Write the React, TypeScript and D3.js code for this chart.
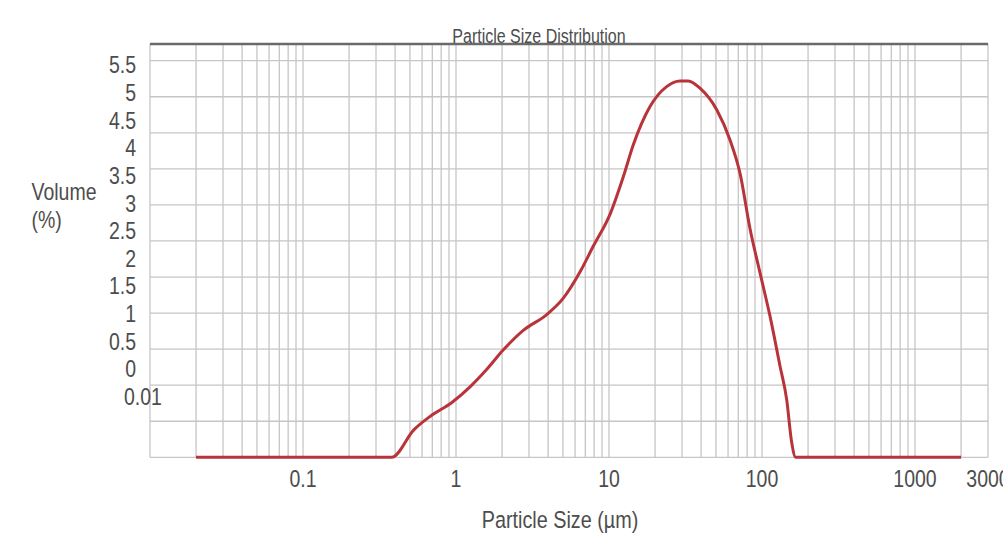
import * as d3 from "d3";

// particle size (µm) and volume (%)
const sizeUm = [
  0.02, 0.38, 0.53, 0.68, 0.94, 1.24, 1.59, 2.04, 2.75, 3.92, 5.0, 6.5,
  7.9, 10.2, 12.4, 14.4, 18.5, 23.8, 29.1, 33, 39.3, 50.6, 61.8, 71.8, 83.5,
  97, 113, 131, 145, 156, 166, 2000,
];
const volumePct = [
  0, 0, 0.38, 0.57, 0.76, 0.98, 1.22, 1.49, 1.76, 1.98, 2.2, 2.58, 2.93,
  3.38, 3.89, 4.33, 4.86, 5.14, 5.22, 5.22, 5.12, 4.82, 4.4, 3.94, 3.17,
  2.56, 1.95, 1.27, 0.8, 0.22, 0, 0,
];

const yTickLabels = ["5.5", "5", "4.5", "4", "3.5", "3", "2.5", "2", "1.5", "1", "0.5", "0", "0.01"];
const yGridValues = [0, 0.5, 1, 1.5, 2, 2.5, 3, 3.5, 4, 4.5, 5, 5.5];
const xTickValues = [0.1, 1, 10, 100, 1000, 3000];

const W = 1003;
const H = 541;
const FONT = "'Liberation Sans', Arial, sans-serif";
const TEXT = "#4d4d4d";

export default function App() {
  const x = d3.scaleLog().domain([0.01, 3000]).range([150, 988]);
  const y = d3.scaleLinear().domain([0, 5.5]).range([457.3, 60.7]);
  const labelY = d3.scalePoint<string>().domain(yTickLabels).range([65, 396.7]);

  const pts = sizeUm.map((s, i) => [s, volumePct[i]] as [number, number]);
  const line = d3
    .line<[number, number]>()
    .x((d) => x(d[0]))
    .y((d) => y(d[1]))
    .curve(d3.curveMonotoneX);

  const vGrid = x.ticks();

  return (
    <svg
      width={W}
      height={H}
      style={{ position: "absolute", left: 0, top: 0, background: "#fff" }}
      fontFamily={FONT}
    >
      <rect width={W} height={H} fill="#fff" />

      {/* grid */}
      <g stroke="#c6c6c6" strokeWidth={1.3}>
        {vGrid.map((v, i) => (
          <line key={"v" + i} x1={x(v)} x2={x(v)} y1={44} y2={457.3} />
        ))}
        {yGridValues.map((v, i) => (
          <line key={"h" + i} x1={150} x2={988} y1={y(v)} y2={y(v)} />
        ))}
      </g>
      <line x1={150} x2={988} y1={44} y2={44} stroke="#6a6a6a" strokeWidth={2.5} />

      {/* curve */}
      <path d={line(pts) ?? ""} fill="none" stroke="#b8333a" strokeWidth={3} strokeLinejoin="round" />

      {/* title */}
      <text
        transform={`translate(539,43) scale(1,1.3)`}
        textAnchor="middle"
        fontSize={16}
        fill={TEXT}
      >
        Particle Size Distribution
      </text>

      {/* y tick labels */}
      {yTickLabels.map((t) => {
        const last = t === "0.01";
        return (
          <text
            key={t}
            transform={`translate(${last ? 124 : 136},${(labelY(t) ?? 0) + 8.3}) scale(1,1.2)`}
            textAnchor={last ? "start" : "end"}
            fontSize={19.5}
            fill={TEXT}
          >
            {t}
          </text>
        );
      })}

      {/* y axis title */}
      <text transform="translate(31.5,200) scale(1,1.2)" fontSize={19.5} fill={TEXT}>
        Volume
      </text>
      <text transform="translate(31.5,228) scale(1,1.2)" fontSize={19.5} fill={TEXT}>
        (%)
      </text>

      {/* x tick labels */}
      {xTickValues.map((v) => (
        <text
          key={v}
          transform={`translate(${x(v)},487) scale(1,1.2)`}
          textAnchor="middle"
          fontSize={19.5}
          fill={TEXT}
        >
          {String(v)}
        </text>
      ))}

      {/* x axis title */}
      <text transform="translate(560,528) scale(1,1.2)" textAnchor="middle" fontSize={19.8} fill={TEXT}>
        Particle Size (µm)
      </text>
    </svg>
  );
}
